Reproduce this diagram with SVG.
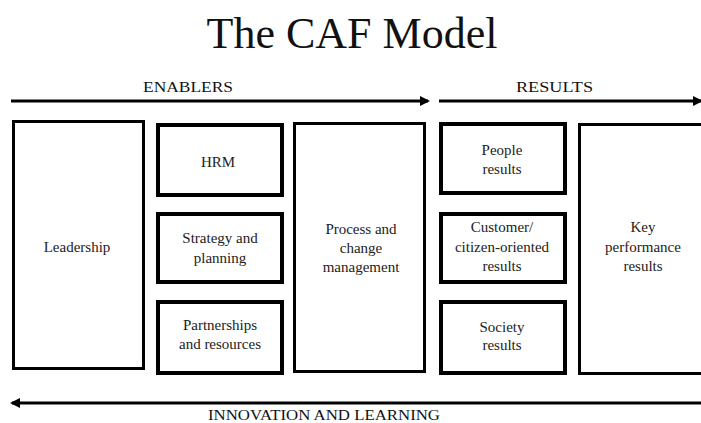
<svg xmlns="http://www.w3.org/2000/svg" width="701" height="423" viewBox="0 0 701 423">
<style>
.box{fill:#fff;stroke:#000}
.big{stroke-width:3}
.small{stroke-width:4}
.lbl{font-family:"Liberation Serif","Times New Roman",serif;font-size:15px;fill:#222;text-anchor:middle}
.hdr{font-family:"Liberation Serif","Times New Roman",serif;font-size:15px;fill:#111}
.arrow{stroke:#000;stroke-width:3;fill:none}
</style>
<defs>
<marker id="ah" markerWidth="10" markerHeight="10" refX="8" refY="5" orient="auto" markerUnits="userSpaceOnUse">
<path d="M0,0 L10,5 L0,10 Z" fill="#000"/>
</marker>
</defs>
<rect width="701" height="423" fill="#fff"/>
<text x="352" y="48" font-family="'Liberation Serif','Times New Roman',serif" font-size="44" fill="#111" text-anchor="middle">The CAF Model</text>
<text class="hdr" x="143" y="92" textLength="90" lengthAdjust="spacingAndGlyphs">ENABLERS</text>
<text class="hdr" x="516" y="92" textLength="77" lengthAdjust="spacingAndGlyphs">RESULTS</text>
<g id="connectors">
<line class="arrow" x1="11" y1="101" x2="428" y2="101" marker-end="url(#ah)"/>
<line class="arrow" x1="439" y1="101" x2="701" y2="101" marker-end="url(#ah)"/>
<line class="arrow" x1="701" y1="403" x2="12" y2="403" marker-end="url(#ah)"/>
</g>
<g id="leadership">
<rect class="box big" x="13.5" y="121.5" width="130" height="247"/>
<text class="lbl" x="77" y="252">Leadership</text>
</g>
<g id="hrm">
<rect class="box small" x="158" y="125" width="124" height="70"/>
<text class="lbl" x="218" y="167">HRM</text>
</g>
<g id="strategy">
<rect class="box small" x="158" y="214" width="124" height="68"/>
<text class="lbl" x="220" y="243">Strategy and</text>
<text class="lbl" x="220" y="263">planning</text>
</g>
<g id="partnerships">
<rect class="box small" x="158" y="302" width="124" height="71"/>
<text class="lbl" x="220" y="330">Partnerships</text>
<text class="lbl" x="220" y="349">and resources</text>
</g>
<g id="process">
<rect class="box big" x="294.5" y="123.5" width="130" height="248"/>
<text class="lbl" x="361" y="234">Process and</text>
<text class="lbl" x="361" y="253">change</text>
<text class="lbl" x="361" y="272">management</text>
</g>
<g id="people">
<rect class="box small" x="441" y="124" width="124" height="69"/>
<text class="lbl" x="502" y="155">People</text>
<text class="lbl" x="502" y="174">results</text>
</g>
<g id="customer">
<rect class="box small" x="441" y="214" width="124" height="68"/>
<text class="lbl" x="502" y="232">Customer/</text>
<text class="lbl" x="502" y="252">citizen-oriented</text>
<text class="lbl" x="502" y="271">results</text>
</g>
<g id="society">
<rect class="box small" x="441" y="302" width="124" height="71"/>
<text class="lbl" x="502" y="332">Society</text>
<text class="lbl" x="502" y="350">results</text>
</g>
<g id="key">
<rect class="box big" x="579.5" y="124.5" width="130" height="249"/>
<text class="lbl" x="643" y="232">Key</text>
<text class="lbl" x="643" y="252">performance</text>
<text class="lbl" x="643" y="271">results</text>
</g>
<text class="hdr" x="208" y="420" textLength="232" lengthAdjust="spacingAndGlyphs">INNOVATION AND LEARNING</text>
</svg>
